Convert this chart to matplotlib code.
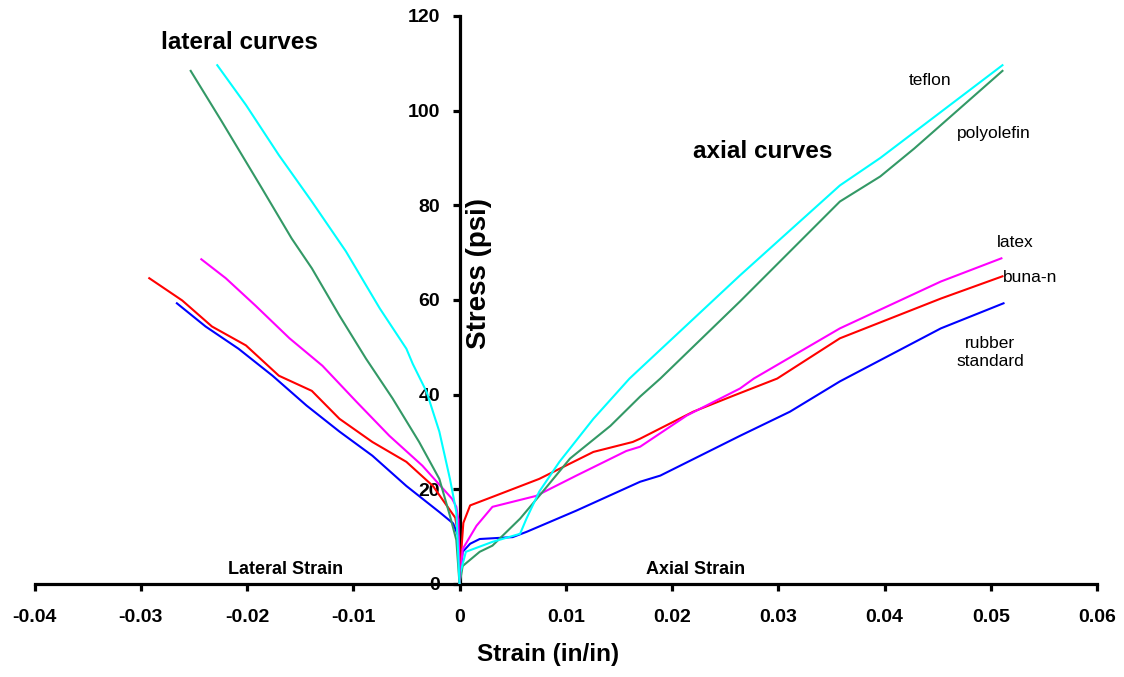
import matplotlib
matplotlib.use("Agg")
import matplotlib.pyplot as plt

plt.rcParams['font.family'] = ['Liberation Sans', 'DejaVu Sans']

# axial curves (positive strain)
rubber_ax_x = [0, 0.0003, 0.001, 0.0019, 0.005, 0.0063, 0.011, 0.017, 0.0189, 0.0264, 0.0311, 0.0358, 0.0453, 0.0512]
rubber_ax_y = [0, 6.8, 8.5, 9.5, 9.9, 11.0, 15.5, 21.6, 22.9, 31.3, 36.4, 42.8, 54.0, 59.3]

buna_ax_x = [0, 0.0002, 0.00036, 0.001, 0.0031, 0.0075, 0.0126, 0.0163, 0.017, 0.022, 0.0258, 0.0299, 0.0358, 0.0453, 0.0511]
buna_ax_y = [0, 8.0, 12.9, 16.6, 18.4, 22.2, 27.9, 30.0, 30.7, 36.4, 39.8, 43.4, 51.9, 60.3, 65.0]

latex_ax_x = [0, 0.0003, 0.0016, 0.0031, 0.0072, 0.011, 0.0157, 0.017, 0.0214, 0.0264, 0.0277, 0.0358, 0.0453, 0.051]
latex_ax_y = [0, 7.4, 12.3, 16.3, 18.6, 22.9, 28.1, 29.0, 35.6, 41.3, 43.4, 54.0, 63.9, 68.8]

poly_ax_x = [0, 0.0003, 0.0019, 0.0031, 0.0057, 0.0075, 0.0104, 0.0142, 0.017, 0.0189, 0.0264, 0.0358, 0.0396, 0.0428, 0.0511]
poly_ax_y = [0, 3.8, 6.8, 8.1, 13.8, 18.6, 26.5, 33.4, 39.6, 43.4, 59.7, 80.8, 86.1, 92.0, 108.4]

teflon_ax_x = [0, 0.0001, 0.0006, 0.0031, 0.0057, 0.0063, 0.0075, 0.0094, 0.0126, 0.016, 0.017, 0.0264, 0.0358, 0.0396, 0.0511]
teflon_ax_y = [0, 2.5, 6.8, 8.9, 10.6, 13.8, 19.5, 25.8, 34.9, 43.4, 45.5, 65.2, 84.2, 90.0, 109.6]

# lateral curves (negative strain)
rubber_lat_x = [0, -0.0001, -0.0006, -0.0019, -0.005, -0.0082, -0.0113, -0.0144, -0.0176, -0.0208, -0.0239, -0.0266]
rubber_lat_y = [0, 10.0, 12.8, 15.2, 20.7, 27.1, 32.2, 37.7, 44.0, 49.7, 54.4, 59.3]

buna_lat_x = [0, -0.0001, -0.0004, -0.0025, -0.005, -0.0082, -0.0113, -0.0139, -0.017, -0.0201, -0.0233, -0.0261, -0.0292]
buna_lat_y = [0, 10.0, 14.0, 20.7, 25.8, 30.0, 34.9, 40.8, 44.0, 50.4, 54.4, 59.9, 64.6]

latex_lat_x = [0, -0.0001, -0.0003, -0.0007, -0.0035, -0.0066, -0.0097, -0.0129, -0.016, -0.0192, -0.022, -0.0243]
latex_lat_y = [0, 13.5, 16.3, 18.0, 25.0, 31.3, 38.5, 46.1, 51.9, 58.8, 64.6, 68.6]

poly_lat_x = [0, -0.0003, -0.0009, -0.0019, -0.0038, -0.0063, -0.0088, -0.0113, -0.0139, -0.0158, -0.0186, -0.0224, -0.0253]
poly_lat_y = [0, 9.3, 14.4, 22.2, 30.0, 39.2, 47.6, 56.7, 66.7, 73.0, 83.6, 97.8, 108.4]

teflon_lat_x = [0, -0.0003, -0.0009, -0.0019, -0.0031, -0.0044, -0.005, -0.0075, -0.0107, -0.0139, -0.017, -0.0201, -0.0228]
teflon_lat_y = [0, 15.2, 22.2, 32.2, 40.6, 46.5, 49.7, 58.2, 70.3, 80.8, 90.6, 101.2, 109.6]

x_ticks = [-0.04, -0.03, -0.02, -0.01, 0, 0.01, 0.02, 0.03, 0.04, 0.05, 0.06]
x_tick_labels = ['-0.04', '-0.03', '-0.02', '-0.01', '0', '0.01', '0.02', '0.03', '0.04', '0.05', '0.06']
y_ticks = [0, 20, 40, 60, 80, 100, 120]

fig = plt.figure(figsize=(11.24, 6.77), dpi=100)
ax = fig.add_axes([0.0307, 0.1374, 0.9453, 0.839])

lw = 1.5
ax.plot(rubber_ax_x, rubber_ax_y, color='#0000FF', lw=lw, zorder=3)
ax.plot(buna_ax_x, buna_ax_y, color='#FF0000', lw=lw, zorder=3)
ax.plot(latex_ax_x, latex_ax_y, color='#FF00FF', lw=lw, zorder=3)
ax.plot(poly_ax_x, poly_ax_y, color='#339966', lw=lw, zorder=3)
ax.plot(teflon_ax_x, teflon_ax_y, color='#00FFFF', lw=lw, zorder=3)

ax.plot(rubber_lat_x, rubber_lat_y, color='#0000FF', lw=lw, zorder=3)
ax.plot(buna_lat_x, buna_lat_y, color='#FF0000', lw=lw, zorder=3)
ax.plot(latex_lat_x, latex_lat_y, color='#FF00FF', lw=lw, zorder=3)
ax.plot(poly_lat_x, poly_lat_y, color='#339966', lw=lw, zorder=3)
ax.plot(teflon_lat_x, teflon_lat_y, color='#00FFFF', lw=lw, zorder=3)

ax.set_xlim(-0.04, 0.06)
ax.set_ylim(0, 120)

# axes cross at the origin
ax.spines['left'].set_position(('data', 0))
ax.spines['right'].set_visible(False)
ax.spines['top'].set_visible(False)
for s in ['left', 'bottom']:
    ax.spines[s].set_linewidth(2.3)

ax.set_xticks(x_ticks)
ax.set_xticklabels(x_tick_labels)
ax.set_yticks(y_ticks)
ax.tick_params(axis='x', direction='out', length=5, width=2.3, pad=13, labelsize=14)
ax.tick_params(axis='y', direction='out', length=5, width=2.3, pad=9, labelsize=14)
for lab in ax.get_xticklabels() + ax.get_yticklabels():
    lab.set_fontweight('bold')

ax.text(0.483, -0.125, 'Strain (in/in)', transform=ax.transAxes, ha='center', va='center',
        fontsize=17.5, fontweight='bold')
ax.text(0.00184, 65.5, 'Stress (psi)', rotation=90, ha='center', va='center',
        fontsize=20, fontweight='bold')

ax.text(-0.0207, 114.3, 'lateral curves', ha='center', va='center', fontsize=17.5, fontweight='bold')
ax.text(0.0285, 91.4, 'axial curves', ha='center', va='center', fontsize=17.5, fontweight='bold')
ax.text(-0.0164, 3.0, 'Lateral Strain', ha='center', va='center', fontsize=13, fontweight='bold')
ax.text(0.0222, 3.0, 'Axial Strain', ha='center', va='center', fontsize=13, fontweight='bold')

ax.text(0.04225, 106.3, 'teflon', ha='left', va='center', fontsize=12.5)
ax.text(0.0468, 95.2, 'polyolefin', ha='left', va='center', fontsize=12.5)
ax.text(0.05056, 72.1, 'latex', ha='left', va='center', fontsize=12.5)
ax.text(0.05112, 64.7, 'buna-n', ha='left', va='center', fontsize=12.5)
ax.text(0.04993, 48.9, 'rubber\nstandard', ha='center', va='center', fontsize=12.5)

fig.savefig('out.png', dpi=100)
